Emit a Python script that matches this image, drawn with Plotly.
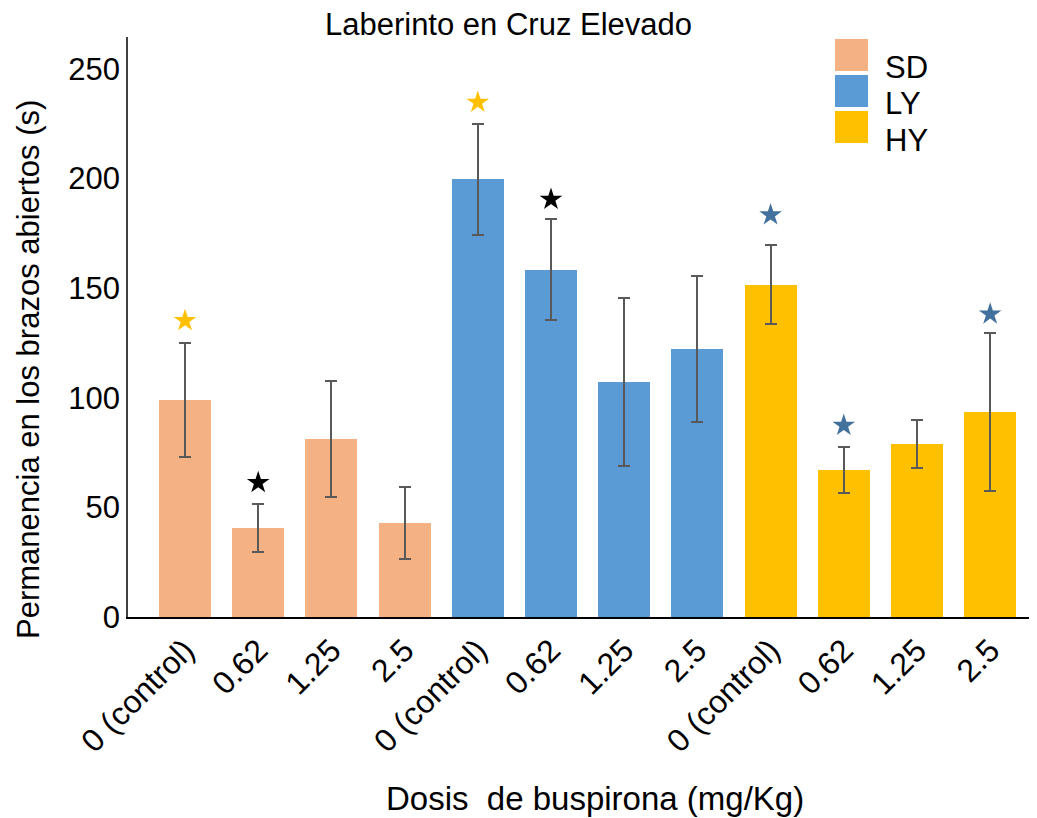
import plotly.graph_objects as go

# ---------------- data ----------------
groups = ["SD", "LY", "HY"]
group_colors = ["#F4B183", "#5B9BD5", "#FFC000"]
doses = ["0 (control)", "0.62", "1.25", "2.5"]

sd_mean = [99.0, 40.6, 81.2, 42.9]
ly_mean = [199.6, 158.5, 107.2, 122.3]
hy_mean = [151.5, 67.1, 78.9, 93.5]

sd_err = [26.0, 11.0, 26.4, 16.6]
ly_err = [25.3, 22.9, 38.5, 33.4]
hy_err = [18.0, 10.4, 10.8, 36.0]

# significance stars: bar index, height, colour
star_idx = [0, 1, 4, 5, 8, 9, 11]
star_y = [135.2, 61.3, 234.8, 190.5, 183.4, 87.4, 138.2]
star_colors = ["#FFC000", "#000000", "#FFC000", "#000000", "#41719C", "#41719C", "#41719C"]

title = "Laberinto en Cruz Elevado"
x_title = "Dosis\u00a0 de buspirona (mg/Kg)"
y_title = "Permanencia en los brazos abiertos (s)"
y_ticks = [0, 50, 100, 150, 200, 250]

# ---------------- figure ----------------
# the page body has an 8px margin, so the figure is 8px smaller each way
OFF = 8
W, H = 1037 - OFF, 818 - OFF
L, R, T, B = 128 - OFF, 1, 37 - OFF, 201
FONT = "Liberation Sans, Arial, sans-serif"

means = [sd_mean, ly_mean, hy_mean]
errs = [sd_err, ly_err, hy_err]

fig = go.Figure()
n = len(doses)
for g, (name, col, m, e) in enumerate(zip(groups, group_colors, means, errs)):
    xs = [g * n + i for i in range(n)]
    fig.add_trace(go.Bar(
        x=xs, y=m, name=name, width=0.71,
        marker=dict(color=col, line=dict(width=0)),
        error_y=dict(type="data", array=e, visible=True, color="#595959",
                     thickness=2, width=6),
        showlegend=False,
    ))

fig.add_trace(go.Scatter(
    x=star_idx, y=star_y, mode="markers",
    marker=dict(symbol="star", size=17, color=star_colors, line=dict(width=0)),
    showlegend=False, hoverinfo="skip",
))

all_ticks = list(range(len(groups) * n))
all_labels = doses * len(groups)

fig.update_layout(
    width=W, height=H,
    margin=dict(l=L, r=R, t=T, b=B),
    paper_bgcolor="white", plot_bgcolor="white",
    font=dict(family=FONT, color="#000000"),
    title=dict(text=title, x=(508.5 - OFF) / W, xanchor="center", xref="container",
               y=1 - (24 - OFF) / H, yanchor="middle", yref="container",
               font=dict(size=31, family=FONT, color="#000000")),
    bargap=0,
)

fig.update_xaxes(
    range=[-0.779, 11.626], tickvals=all_ticks, ticktext=all_labels,
    tickangle=-45, tickfont=dict(size=32), ticks="", showgrid=False,
    zeroline=False, showline=True, linecolor="#000000", linewidth=1.5,
)
fig.update_yaxes(
    range=[0, 264.6], tickvals=y_ticks, tickfont=dict(size=31), ticks="",
    showgrid=False, zeroline=False, showline=True, linecolor="#404040",
    linewidth=1.5,
)

# ---------------- helpers: page pixel -> paper ----------------
def px_x(p):
    return (p - OFF - L) / (W - L - R)

def px_y(p):
    return 1 - (p - OFF - T) / (H - T - B)

# axis titles (placed as annotations to match the reference offsets)
fig.add_annotation(text=y_title, xref="paper", yref="paper",
                   x=px_x(28), y=px_y(370), xanchor="center", yanchor="middle",
                   textangle=-90, showarrow=False, font=dict(size=31, color="#000000"))
fig.add_annotation(text=x_title, xref="paper", yref="paper",
                   x=px_x(595), y=px_y(798), xanchor="center", yanchor="middle",
                   showarrow=False, font=dict(size=33, color="#000000"))

# ---------------- manual legend (large square keys) ----------------
key_tops = [39, 75, 111]
text_centers = [67, 104, 140]
for name, col, kt, tc in zip(groups, group_colors, key_tops, text_centers):
    fig.add_shape(type="rect", xref="paper", yref="paper",
                  x0=px_x(835), x1=px_x(868), y0=px_y(kt + 32), y1=px_y(kt),
                  fillcolor=col, line=dict(width=0))
    fig.add_annotation(text=name, xref="paper", yref="paper",
                       x=px_x(883), y=px_y(tc), xanchor="left", yanchor="middle",
                       showarrow=False, font=dict(size=31, color="#000000"))

fig.write_html("out.html")
